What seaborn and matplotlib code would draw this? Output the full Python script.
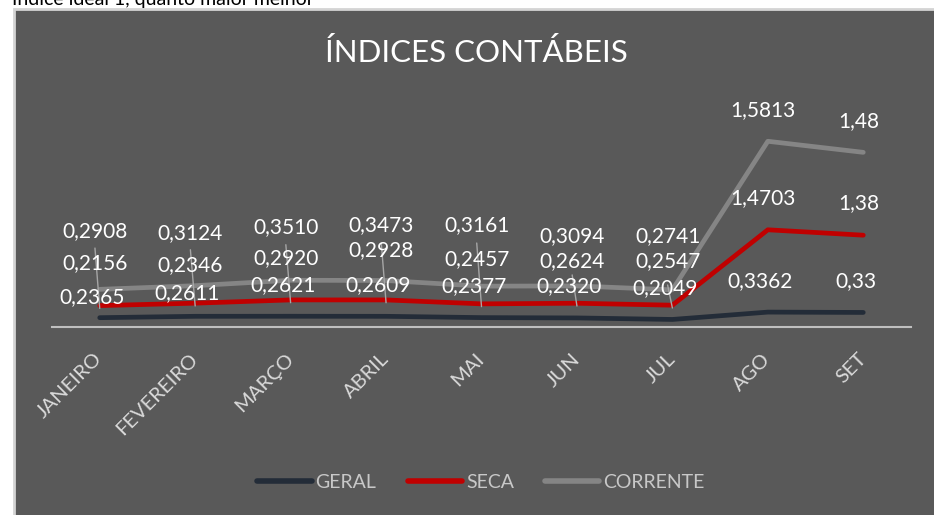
import pandas as pd
import seaborn as sns
import matplotlib.pyplot as plt
from matplotlib.patches import Rectangle

meses = ["JANEIRO", "FEVEREIRO", "MARÇO", "ABRIL", "MAI", "JUN", "JUL", "AGO", "SET"]
geral = [0.2365, 0.2611, 0.2621, 0.2609, 0.2377, 0.2320, 0.2049, 0.3362, 0.33]
seca = [0.2156, 0.2346, 0.2920, 0.2928, 0.2457, 0.2624, 0.2547, 1.4703, 1.38]
corrente = [0.2908, 0.3124, 0.3510, 0.3473, 0.3161, 0.3094, 0.2741, 1.5813, 1.48]
rotulos_geral = ["0,2365", "0,2611", "0,2621", "0,2609", "0,2377", "0,2320", "0,2049", "0,3362", "0,33"]
rotulos_seca = ["0,2156", "0,2346", "0,2920", "0,2928", "0,2457", "0,2624", "0,2547", "1,4703", "1,38"]
rotulos_corrente = ["0,2908", "0,3124", "0,3510", "0,3473", "0,3161", "0,3094", "0,2741", "1,5813", "1,48"]

# where the (manually moved) data labels sit, in axis units
pos_geral = [0.61, 0.68, 0.82, 0.82, 0.80, 0.80, 0.77, 0.89, 0.89]
pos_seca = [1.21, 1.18, 1.30, 1.45, 1.29, 1.25, 1.25, 2.38, 2.29]
pos_corrente = [1.79, 1.75, 1.86, 1.89, 1.89, 1.70, 1.70, 3.95, 3.75]
leader_top = [1.48, 1.45, 1.54, 1.57, 1.57, 1.00, 0.82]

# stacked line chart (Excel style)
cum_seca = [g + s for g, s in zip(geral, seca)]
cum_corrente = [c + s for c, s in zip(cum_seca, corrente)]
df = pd.DataFrame({
    "mes": meses * 3,
    "serie": ["GERAL"] * 9 + ["SECA"] * 9 + ["CORRENTE"] * 9,
    "valor": geral + cum_seca + cum_corrente,
})

sns.set_theme(style="white")
plt.rcParams["font.family"] = ["Lato", "DejaVu Sans"]

fig = plt.figure(figsize=(9.34, 5.15), dpi=100)
fig.patch.set_facecolor("white")
fig.patches.append(Rectangle((14 / 934, -0.01), 1, 1.01 - 9 / 515, transform=fig.transFigure,
                             facecolor="#595959", edgecolor="#d4d4d4", linewidth=2, zorder=-10))
fig.text(12 / 934, 1 - 5 / 515, "Índice ideal 1, quanto maior melhor", color="black",
         fontsize=14, ha="left", va="baseline")
fig.text(476 / 934, 1 - 53 / 515, "ÍNDICES CONTÁBEIS", color="white", fontsize=22.5,
         ha="center", va="center")

ax = fig.add_axes([52 / 934, 1 - 327 / 515, (911 - 52) / 934, (327 - 107) / 515])
ax.set_facecolor("none")
cores = {"GERAL": "#232c38", "SECA": "#c00000", "CORRENTE": "#858585"}
sns.lineplot(data=df, x="mes", y="valor", hue="serie", palette=cores,
             hue_order=["GERAL", "SECA", "CORRENTE"], linewidth=3.4, sort=False,
             solid_capstyle="round", ax=ax, legend=True, zorder=3)
ax.set_xlim(-0.5, len(meses) - 0.5)
ax.set_ylim(0.07, 4.0)

for i in range(len(leader_top)):
    ax.plot([i - 0.05, i], [leader_top[i], cum_seca[i] - 0.05], color="#a6a6a6", lw=1, zorder=4)

for i in range(len(meses)):
    ax.text(i - 0.05, pos_corrente[i], rotulos_corrente[i], color="white", fontsize=15,
            ha="center", va="center", zorder=5)
    ax.text(i - 0.05, pos_seca[i], rotulos_seca[i], color="white", fontsize=15,
            ha="center", va="center", zorder=5)
    ax.text(i - 0.08, pos_geral[i], rotulos_geral[i], color="white", fontsize=15,
            ha="center", va="center", zorder=5)

sns.despine(ax=ax, left=True, top=True, right=True)
ax.spines["bottom"].set_color("#bfbfbf")
ax.spines["bottom"].set_linewidth(1.5)
ax.set_yticks([])
ax.set_xlabel("")
ax.set_ylabel("")
ax.tick_params(axis="x", length=0, pad=21, colors="#d9d9d9")
ax.set_xticks(range(len(meses)))
ax.set_xticklabels(meses, rotation=45, ha="right", va="center", rotation_mode="anchor",
                   fontsize=14.5, color="#d9d9d9")

handles, labels = ax.get_legend_handles_labels()
ax.legend_.remove()
for h in handles:
    h.set_linewidth(4)
fig.legend(handles, labels, loc="center", bbox_to_anchor=(481 / 934, 1 - 482 / 515),
           ncol=3, frameon=False, fontsize=14, labelcolor="#c8c8c8",
           handlelength=2.8, handletextpad=0.2, columnspacing=1.6)

fig.savefig("out.png", dpi=100)
